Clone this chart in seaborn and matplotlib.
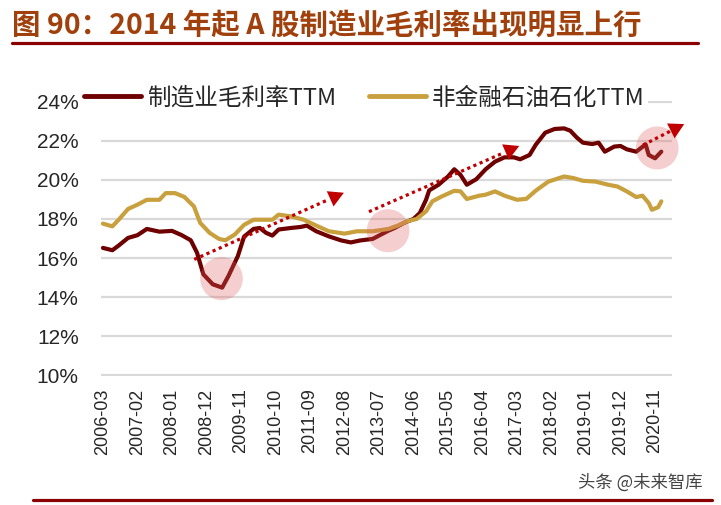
import matplotlib
matplotlib.use("Agg")
import matplotlib.pyplot as plt
from matplotlib.lines import Line2D
from matplotlib.patches import Ellipse
import pandas as pd
import seaborn as sns

# 制造业毛利率TTM (%)
mfg_dates = ["2006-03", "2006-06", "2006-08", "2006-11", "2007-02", "2007-05", "2007-09",
             "2008-01", "2008-04", "2008-07", "2008-09", "2008-11", "2009-02", "2009-05",
             "2009-07", "2009-10", "2009-12", "2010-03", "2010-05", "2010-07", "2010-09",
             "2010-11", "2011-03", "2011-06", "2011-08", "2011-11", "2012-03", "2012-07",
             "2012-10", "2013-01", "2013-05", "2013-07", "2013-10", "2013-12", "2014-03",
             "2014-06", "2014-08", "2014-10", "2014-11", "2015-02", "2015-05", "2015-07",
             "2015-09", "2015-11", "2016-02", "2016-05", "2016-08", "2016-11", "2017-02",
             "2017-04", "2017-07", "2017-09", "2017-12", "2018-03", "2018-06", "2018-08",
             "2018-10", "2018-12", "2019-03", "2019-05", "2019-07", "2019-10", "2019-12",
             "2020-02", "2020-05", "2020-08", "2020-09", "2020-11", "2021-01"]
mfg_values = [16.52, 16.40, 16.64, 17.03, 17.17, 17.49, 17.35,
              17.39, 17.18, 16.91, 16.27, 15.17, 14.66, 14.49,
              15.08, 16.10, 17.10, 17.49, 17.54, 17.29, 17.15,
              17.46, 17.54, 17.59, 17.66, 17.37, 17.11, 16.90,
              16.80, 16.90, 16.98, 17.15, 17.40, 17.54, 17.80,
              18.00, 18.30, 18.98, 19.46, 19.75, 20.17, 20.54,
              20.25, 19.75, 20.03, 20.54, 20.93, 21.15, 21.15,
              21.05, 21.27, 21.80, 22.41, 22.60, 22.63, 22.51,
              22.17, 21.90, 21.83, 21.90, 21.44, 21.70, 21.73,
              21.56, 21.44, 21.81, 21.27, 21.10, 21.44]

# 非金融石油石化TTM (%)
nonfin_dates = ["2006-03", "2006-06", "2006-08", "2006-11", "2007-02", "2007-05", "2007-09",
                "2007-11", "2008-02", "2008-05", "2008-08", "2008-10", "2009-01", "2009-04",
                "2009-06", "2009-09", "2009-12", "2010-03", "2010-06", "2010-09", "2010-11",
                "2011-03", "2011-07", "2011-11", "2012-03", "2012-08", "2012-12", "2013-05",
                "2013-10", "2014-01", "2014-04", "2014-07", "2014-10", "2014-12", "2015-03",
                "2015-07", "2015-09", "2015-11", "2016-03", "2016-05", "2016-08", "2016-11",
                "2017-03", "2017-06", "2017-09", "2018-01", "2018-06", "2018-09", "2018-12",
                "2019-04", "2019-08", "2019-11", "2020-02", "2020-05", "2020-07", "2020-09",
                "2020-10", "2020-12", "2021-01"]
nonfin_values = [17.76, 17.62, 17.96, 18.51, 18.73, 18.98, 18.98,
                 19.32, 19.32, 19.12, 18.64, 17.80, 17.29, 16.98,
                 16.91, 17.20, 17.70, 17.96, 17.96, 17.96, 18.22,
                 18.13, 17.96, 17.66, 17.37, 17.25, 17.37, 17.37,
                 17.49, 17.66, 17.88, 18.00, 18.39, 18.90, 19.15,
                 19.44, 19.41, 19.02, 19.19, 19.24, 19.41, 19.19,
                 18.98, 19.03, 19.45, 19.91, 20.17, 20.09, 19.95,
                 19.91, 19.75, 19.66, 19.41, 19.12, 19.19, 18.81,
                 18.47, 18.60, 18.90]

series_names = ["制造业毛利率TTM", "非金融石油石化TTM"]
xtick_labels = ["2006-03", "2007-02", "2008-01", "2008-12", "2009-11", "2010-10",
                "2011-09", "2012-08", "2013-07", "2014-06", "2015-05", "2016-04",
                "2017-03", "2018-02", "2019-01", "2019-12", "2020-11"]
yticks = [10, 12, 14, 16, 18, 20, 22, 24]

DARK = "#6E0000"
GOLD = "#C9A03E"
RED = "#C00000"


def month_index(d):
    return (int(d[:4]) - 2006) * 12 + int(d[5:7]) - 3


df = pd.concat([
    pd.DataFrame({"m": [month_index(d) for d in mfg_dates], "v": mfg_values, "s": series_names[0]}),
    pd.DataFrame({"m": [month_index(d) for d in nonfin_dates], "v": nonfin_values, "s": series_names[1]}),
], ignore_index=True)

sns.set_theme(style="white")
plt.rcParams["font.family"] = ["Noto Sans CJK SC", "DejaVu Sans"]

fig = plt.figure(figsize=(7.21, 5.05), dpi=100)
ax = fig.add_axes([0.140, 0.2554, 0.792, 0.5446])
sns.lineplot(data=df, x="m", y="v", hue="s", hue_order=series_names,
             palette=[DARK, GOLD], linewidth=3, legend=False, ax=ax, zorder=3)

ax.set_xlim(-0.64, 181.4)
ax.set_ylim(9.97, 24.03)
ax.set_yticks(yticks)
ax.set_yticklabels([f"{v}%" for v in yticks], fontsize=15, family="Liberation Sans")
ax.set_xticks([month_index(d) for d in xtick_labels])
ax.set_xticklabels(xtick_labels, rotation=90, fontsize=13, family="Liberation Sans")
ax.tick_params(axis="y", length=0, pad=16)
ax.tick_params(axis="x", length=0, pad=9)
ax.grid(axis="y", color="#d9d9d9", lw=1.6)
ax.set_axisbelow(True)
for sp in ax.spines.values():
    sp.set_visible(False)
ax.set_xlabel("")
ax.set_ylabel("")

# 标注：圆圈
for cx, cy in [(37.8, 14.95), (90.9, 17.4), (176.7, 21.63)]:
    ax.add_patch(Ellipse((cx, cy), 13.6, 2.2, facecolor="#E06060", alpha=0.3,
                         edgecolor="none", zorder=4, clip_on=False))

# 标注：虚线箭头
for (x0, y0), (x1, y1) in [((29.1, 15.93), (76.8, 19.34)),
                           ((84.8, 18.37), (132.7, 21.73)),
                           ((172.2, 21.78), (185.3, 22.85))]:
    fx = x0 + (x1 - x0) * 0.9
    fy = y0 + (y1 - y0) * 0.9
    ax.plot([x0, fx], [y0, fy], color=RED, lw=2.3, ls=(0, (1, 1.1)),
            zorder=5, clip_on=False)
    ax.annotate("", xy=(x1, y1), xytext=(x0, y0),
                arrowprops=dict(arrowstyle="-|>,head_length=0.9,head_width=0.5",
                                color=RED, lw=0, shrinkA=0, shrinkB=0),
                zorder=5, annotation_clip=False)

handles = [Line2D([0], [0], color=DARK, lw=3.5), Line2D([0], [0], color=GOLD, lw=3.5)]
leg = fig.legend(handles, series_names, loc="center left", bbox_to_anchor=(0.112, 0.806),
                 ncol=2, fontsize=17, frameon=True, handlelength=2.4, handletextpad=0.25,
                 columnspacing=1.4, borderpad=0.15, borderaxespad=0)
leg.get_frame().set_facecolor("white")
leg.get_frame().set_edgecolor("none")
leg.get_frame().set_alpha(1)

fig.text(0.017, 0.95, "图 90：2014 年起 A 股制造业毛利率出现明显上行",
         fontsize=20.5, fontweight="bold", color="#A0410D", va="center", ha="left")
fig.add_artist(Line2D([0.017, 0.968], [0.915, 0.915], color="#8B0000", lw=2.3,
                      transform=fig.transFigure))
fig.add_artist(Line2D([0.046, 0.988], [0.01, 0.01], color="#8B0000", lw=2.3,
                      transform=fig.transFigure))
fig.text(0.888, 0.044, "头条 @未来智库", fontsize=12.5, color="#444444", ha="center", va="center")

fig.savefig("out.png", dpi=100)
